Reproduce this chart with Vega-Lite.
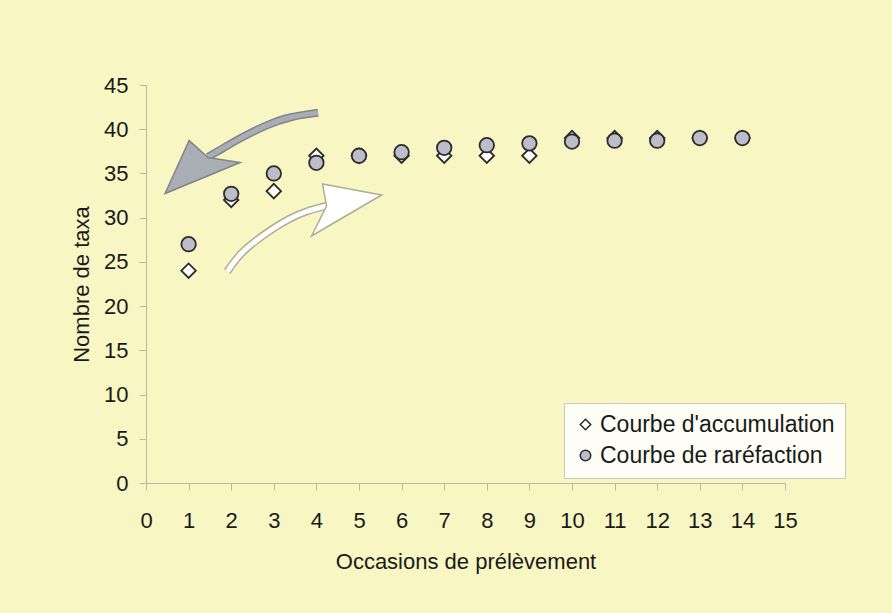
{
  "$schema": "https://vega.github.io/schema/vega-lite/v6.json",
  "width": 639,
  "height": 398,
  "autosize": {"type": "none"},
  "padding": {"left": 146, "top": 85, "right": 107, "bottom": 130},
  "background": "#F8F7C3",
  "config": {
    "font": "Liberation Sans",
    "view": {"stroke": null},
    "axis": {
      "domainColor": "#BDB99B",
      "tickColor": "#BDB99B",
      "domainWidth": 1,
      "tickWidth": 1,
      "grid": false,
      "labelColor": "#1a1a1a",
      "titleColor": "#1a1a1a",
      "labelFontSize": 22,
      "titleFontSize": 22,
      "titleFontWeight": "normal",
      "tickSize": 7
    },
    "legend": {
      "orient": "none",
      "legendX": 418,
      "legendY": 318,
      "title": null,
      "symbolSize": 110,
      "labelFontSize": 23,
      "labelColor": "#1a1a1a",
      "labelLimit": 0,
      "labelOffset": 3,
      "fillColor": "#FEFEF6",
      "strokeColor": "#C9C8B4",
      "padding": 10,
      "rowPadding": 7
    }
  },
  "datasets": {
    "pts": [
      {"occasion": 1, "taxa": 24, "serie": "Courbe d'accumulation"},
      {"occasion": 2, "taxa": 32, "serie": "Courbe d'accumulation"},
      {"occasion": 3, "taxa": 33, "serie": "Courbe d'accumulation"},
      {"occasion": 4, "taxa": 37, "serie": "Courbe d'accumulation"},
      {"occasion": 5, "taxa": 37, "serie": "Courbe d'accumulation"},
      {"occasion": 6, "taxa": 37, "serie": "Courbe d'accumulation"},
      {"occasion": 7, "taxa": 37, "serie": "Courbe d'accumulation"},
      {"occasion": 8, "taxa": 37, "serie": "Courbe d'accumulation"},
      {"occasion": 9, "taxa": 37, "serie": "Courbe d'accumulation"},
      {"occasion": 10, "taxa": 39, "serie": "Courbe d'accumulation"},
      {"occasion": 11, "taxa": 39, "serie": "Courbe d'accumulation"},
      {"occasion": 12, "taxa": 39, "serie": "Courbe d'accumulation"},
      {"occasion": 13, "taxa": 39, "serie": "Courbe d'accumulation"},
      {"occasion": 14, "taxa": 39, "serie": "Courbe d'accumulation"},
      {"occasion": 1, "taxa": 27, "serie": "Courbe de raréfaction"},
      {"occasion": 2, "taxa": 32.7, "serie": "Courbe de raréfaction"},
      {"occasion": 3, "taxa": 35, "serie": "Courbe de raréfaction"},
      {"occasion": 4, "taxa": 36.2, "serie": "Courbe de raréfaction"},
      {"occasion": 5, "taxa": 37, "serie": "Courbe de raréfaction"},
      {"occasion": 6, "taxa": 37.4, "serie": "Courbe de raréfaction"},
      {"occasion": 7, "taxa": 37.9, "serie": "Courbe de raréfaction"},
      {"occasion": 8, "taxa": 38.2, "serie": "Courbe de raréfaction"},
      {"occasion": 9, "taxa": 38.4, "serie": "Courbe de raréfaction"},
      {"occasion": 10, "taxa": 38.6, "serie": "Courbe de raréfaction"},
      {"occasion": 11, "taxa": 38.7, "serie": "Courbe de raréfaction"},
      {"occasion": 12, "taxa": 38.7, "serie": "Courbe de raréfaction"},
      {"occasion": 13, "taxa": 39, "serie": "Courbe de raréfaction"},
      {"occasion": 14, "taxa": 39, "serie": "Courbe de raréfaction"}
    ],
    "fleches": [
      {"fleche": "gris", "partie": "tige", "i": 0, "occasion": 4.038, "taxa": 41.86},
      {"fleche": "gris", "partie": "tige", "i": 1, "occasion": 3.38, "taxa": 41.44},
      {"fleche": "gris", "partie": "tige", "i": 2, "occasion": 2.833, "taxa": 40.5},
      {"fleche": "gris", "partie": "tige", "i": 3, "occasion": 2.207, "taxa": 38.99},
      {"fleche": "gris", "partie": "tige", "i": 4, "occasion": 1.815, "taxa": 37.86},
      {"fleche": "gris", "partie": "tige", "i": 5, "occasion": 1.455, "taxa": 36.88},
      {"fleche": "gris", "partie": "tete", "i": 0, "occasion": 1.223, "taxa": 35.9},
      {"fleche": "blanc", "partie": "tige", "i": 0, "occasion": 1.908, "taxa": 23.9},
      {"fleche": "blanc", "partie": "tige", "i": 1, "occasion": 2.207, "taxa": 25.98},
      {"fleche": "blanc", "partie": "tige", "i": 2, "occasion": 2.599, "taxa": 27.49},
      {"fleche": "blanc", "partie": "tige", "i": 3, "occasion": 2.988, "taxa": 28.81},
      {"fleche": "blanc", "partie": "tige", "i": 4, "occasion": 3.38, "taxa": 29.94},
      {"fleche": "blanc", "partie": "tige", "i": 5, "occasion": 3.772, "taxa": 30.77},
      {"fleche": "blanc", "partie": "tige", "i": 6, "occasion": 4.242, "taxa": 31.33},
      {"fleche": "blanc", "partie": "tete", "i": 0, "occasion": 4.52, "taxa": 31.43}
    ]
  },
  "encoding": {
    "x": {
      "field": "occasion",
      "type": "quantitative",
      "scale": {"domain": [0, 15], "nice": false, "zero": false},
      "axis": {
        "title": "Occasions de prélèvement",
        "values": [0, 1, 2, 3, 4, 5, 6, 7, 8, 9, 10, 11, 12, 13, 14, 15],
        "format": "d",
        "labelPadding": 20,
        "titlePadding": 20,
        "labelFlush": false
      }
    },
    "y": {
      "field": "taxa",
      "type": "quantitative",
      "scale": {"domain": [0, 45], "nice": false},
      "axis": {
        "title": "Nombre de taxa",
        "values": [0, 5, 10, 15, 20, 25, 30, 35, 40, 45],
        "format": "d",
        "labelPadding": 11,
        "titlePadding": 10,
        "labelFlush": false
      }
    }
  },
  "layer": [
    {
      "data": {"name": "fleches"},
      "transform": [{"filter": "datum.fleche === 'gris' && datum.partie === 'tige'"}],
      "mark": {"type": "line", "stroke": "#7F848A", "strokeWidth": 8, "interpolate": "basis", "strokeCap": "butt"},
      "encoding": {"order": {"field": "i"}}
    },
    {
      "data": {"name": "fleches"},
      "transform": [{"filter": "datum.fleche === 'gris' && datum.partie === 'tige'"}],
      "mark": {"type": "line", "stroke": "#A9AEB4", "strokeWidth": 5, "interpolate": "basis", "strokeCap": "butt"},
      "encoding": {"order": {"field": "i"}}
    },
    {
      "data": {"name": "fleches"},
      "transform": [{"filter": "datum.fleche === 'gris' && datum.partie === 'tete'"}],
      "mark": {"type": "point", "shape": "M-33,28L-9,-25L10,-8L42,-3Z", "size": 4, "filled": true, "fill": "#A9AEB4", "stroke": "#7F848A", "strokeWidth": 1.5, "opacity": 1}
    },
    {
      "data": {"name": "fleches"},
      "transform": [{"filter": "datum.fleche === 'blanc' && datum.partie === 'tige'"}],
      "mark": {"type": "line", "stroke": "#AFAD96", "strokeWidth": 8, "interpolate": "basis", "strokeCap": "butt"},
      "encoding": {"order": {"field": "i"}}
    },
    {
      "data": {"name": "fleches"},
      "transform": [{"filter": "datum.fleche === 'blanc' && datum.partie === 'tige'"}],
      "mark": {"type": "line", "stroke": "#FFFFFF", "strokeWidth": 5, "interpolate": "basis", "strokeCap": "butt"},
      "encoding": {"order": {"field": "i"}}
    },
    {
      "data": {"name": "fleches"},
      "transform": [{"filter": "datum.fleche === 'blanc' && datum.partie === 'tete'"}],
      "mark": {"type": "point", "shape": "M43,-10L-16,-21L-12,1L-27,31Z", "size": 4, "filled": true, "fill": "#FFFFFF", "stroke": "#AFAD96", "strokeWidth": 1.5, "opacity": 1}
    },
    {
      "data": {"name": "pts"},
      "mark": {"type": "point", "filled": true, "size": 210, "stroke": "#2B2B2B", "strokeWidth": 1.8, "opacity": 1},
      "encoding": {
        "shape": {
          "field": "serie",
          "type": "nominal",
          "scale": {"domain": ["Courbe d'accumulation", "Courbe de raréfaction"], "range": ["diamond", "circle"]},
          "legend": {
            "encode": {"symbols": {"update": {"stroke": {"value": "#2B2B2B"}, "strokeWidth": {"value": 1.6}, "opacity": {"value": 1}}}}
          }
        },
        "fill": {
          "field": "serie",
          "type": "nominal",
          "scale": {"domain": ["Courbe d'accumulation", "Courbe de raréfaction"], "range": ["#FFFFFF", "#BDBCC9"]},
          "legend": {
            "encode": {"symbols": {"update": {"stroke": {"value": "#2B2B2B"}, "strokeWidth": {"value": 1.6}, "opacity": {"value": 1}}}}
          }
        }
      }
    }
  ]
}
